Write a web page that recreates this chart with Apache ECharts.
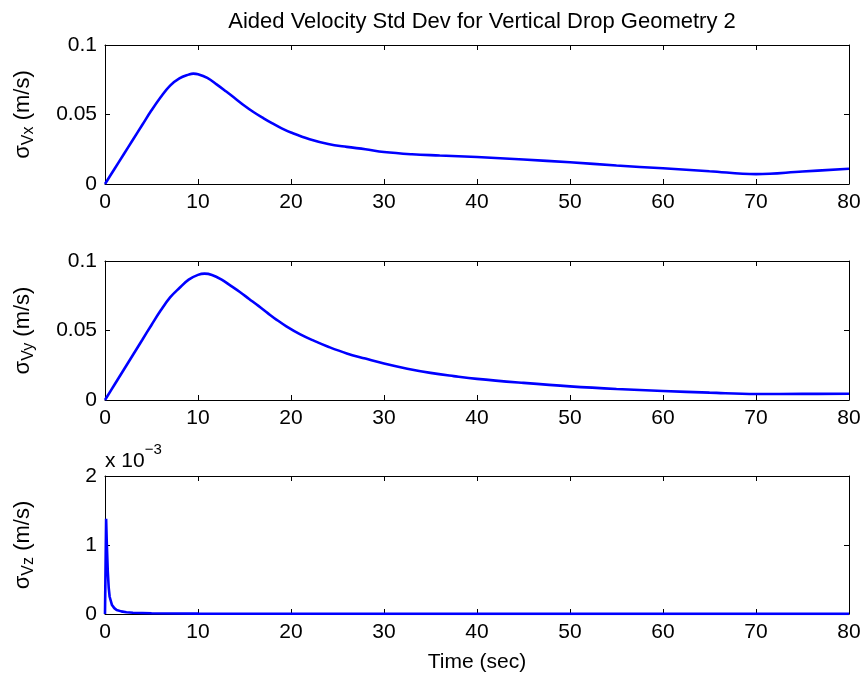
<!DOCTYPE html>
<html>
<head>
<meta charset="utf-8">
<script src="https://cdn.jsdelivr.net/npm/echarts@6/dist/echarts.min.js"></script>
<style>
html,body{margin:0;padding:0;background:#fff;}
#chart{width:864px;height:676px;}
</style>
</head>
<body>
<div id="chart"></div>
<script>
// ---- data ----
var xTicks = [0, 10, 20, 30, 40, 50, 60, 70, 80];

var vxTime = [0, 1, 2, 3, 4, 5, 6, 7, 8, 9, 9.5, 10, 11, 12, 13, 14, 15, 16, 17, 18, 19, 20, 22, 24, 26, 28, 30, 33, 36, 40, 45, 50, 55, 60, 65, 70, 75, 80];
var vxValue = [0, 0.0106, 0.0212, 0.0318, 0.0424, 0.0530, 0.0626, 0.0708, 0.0760, 0.0787, 0.0794, 0.0790, 0.0763, 0.0717, 0.0667, 0.0615, 0.0563, 0.0516, 0.0475, 0.0436, 0.0400, 0.0370, 0.0322, 0.0288, 0.0267, 0.0250, 0.0230, 0.0214, 0.0205, 0.0194, 0.0176, 0.0156, 0.0133, 0.0113, 0.0092, 0.0071, 0.0090, 0.0110];

var vyTime = [0, 1, 2, 3, 4, 5, 6, 7, 8, 9, 10, 10.7, 11.5, 12.5, 13.5, 14.5, 15.5, 16.5, 17.5, 18.5, 19.5, 21, 22.5, 24, 26, 28, 30, 32.5, 35, 37.5, 40, 45, 50, 55, 60, 65, 70, 75, 80];
var vyValue = [0, 0.0108, 0.0216, 0.0324, 0.0432, 0.0540, 0.0645, 0.0738, 0.0806, 0.0866, 0.0900, 0.0909, 0.0900, 0.0868, 0.0823, 0.0777, 0.0727, 0.0677, 0.0625, 0.0575, 0.0530, 0.0472, 0.0425, 0.0383, 0.0335, 0.0298, 0.0262, 0.0225, 0.0195, 0.0172, 0.0152, 0.0123, 0.0098, 0.0079, 0.0065, 0.0053, 0.0043, 0.0044, 0.0045];

// sigma Vz in units of 1e-3 m/s
var vzTime = [0, 0.12, 0.2, 0.3, 0.4, 0.5, 0.75, 1, 1.25, 1.75, 2.3, 3, 5, 10, 20, 40, 60, 80];
var vzValue = [0, 1.38, 1.0, 0.62, 0.38, 0.25, 0.13, 0.085, 0.058, 0.038, 0.025, 0.018, 0.010, 0.005, 0.003, 0.002, 0.002, 0.002];

var titleText = 'Aided Velocity Std Dev for Vertical Drop Geometry 2';
var xName = 'Time (sec)';

function pairs(t, v) { return t.map(function (x, i) { return [x, v[i]]; }); }

var FONT = 'Liberation Sans, Arial, Helvetica, sans-serif';
var FS = 21;

var grids = [
  {left: 105, right: 15, top: 45, height: 139},
  {left: 105, right: 15, top: 261, height: 139},
  {left: 105, right: 15, top: 476, height: 138}
];
var yCfg = [
  {min: 0, max: 0.1, interval: 0.05, fmt: function (v) { return v === 0 ? '0' : String(+v.toFixed(2)); }, name: '{a|σ}{s|Vx}{a| (m/s)}'},
  {min: 0, max: 0.1, interval: 0.05, fmt: function (v) { return v === 0 ? '0' : String(+v.toFixed(2)); }, name: '{a|σ}{s|Vy}{a| (m/s)}'},
  {min: 0, max: 2, interval: 1, fmt: function (v) { return String(v); }, name: '{a|σ}{s|Vz}{a| (m/s)}'}
];

var xAxes = [], yAxes = [];
grids.forEach(function (g, i) {
  xAxes.push({
    type: 'value', gridIndex: i, position: 'bottom', min: xTicks[0], max: xTicks[xTicks.length - 1], interval: xTicks[1] - xTicks[0],
    axisLine: {show: true, onZero: false, lineStyle: {color: '#000', width: 1}},
    axisTick: {show: true, inside: true, length: 5, lineStyle: {color: '#000'}},
    axisLabel: {color: '#000', fontSize: FS, fontFamily: FONT, margin: 8},
    splitLine: {show: false},
    name: i === 2 ? xName : '', nameLocation: 'middle', nameGap: 38,
    nameTextStyle: {color: '#000', fontSize: FS, fontFamily: FONT}
  });
  xAxes.push({
    type: 'value', gridIndex: i, position: 'top', min: xTicks[0], max: xTicks[xTicks.length - 1], interval: xTicks[1] - xTicks[0],
    axisLine: {show: true, onZero: false, lineStyle: {color: '#000', width: 1}},
    axisTick: {show: true, inside: true, length: 5, lineStyle: {color: '#000'}},
    axisLabel: {show: false}, splitLine: {show: false}
  });
  var c = yCfg[i];
  yAxes.push({
    type: 'value', gridIndex: i, position: 'left', min: c.min, max: c.max, interval: c.interval,
    axisLine: {show: true, onZero: false, lineStyle: {color: '#000', width: 1}},
    axisTick: {show: true, inside: true, length: 5, lineStyle: {color: '#000'}},
    axisLabel: {color: '#000', fontSize: FS, fontFamily: FONT, margin: 8, formatter: c.fmt},
    splitLine: {show: false},
    name: c.name, nameLocation: 'middle', nameRotate: 90, nameGap: 68,
    nameTextStyle: {
      color: '#000', fontFamily: FONT,
      rich: {
        a: {fontSize: 22, fontFamily: FONT, color: '#000', lineHeight: 28, verticalAlign: 'middle'},
        s: {fontSize: 16, fontFamily: FONT, color: '#000', lineHeight: 15, verticalAlign: 'bottom'}
      }
    }
  });
  yAxes.push({
    type: 'value', gridIndex: i, position: 'right', min: c.min, max: c.max, interval: c.interval,
    axisLine: {show: true, onZero: false, lineStyle: {color: '#000', width: 1}},
    axisTick: {show: true, inside: true, length: 5, lineStyle: {color: '#000'}},
    axisLabel: {show: false}, splitLine: {show: false}
  });
});

function lineSeries(i, t, v, smooth) {
  return {
    type: 'line', xAxisIndex: i * 2, yAxisIndex: i * 2, data: pairs(t, v),
    showSymbol: false, symbol: 'none', smooth: smooth,
    lineStyle: {color: '#0000ff', width: 2.6}, itemStyle: {color: '#0000ff'},
    clip: true, animation: false
  };
}

var chart = echarts.init(document.getElementById('chart'), null, {renderer: 'canvas'});
chart.setOption({
  animation: false,
  backgroundColor: '#fff',
  title: {
    text: titleText, left: 477, top: 6, textAlign: 'center',
    textStyle: {color: '#000', fontSize: 22, fontWeight: 'normal', fontFamily: FONT}
  },
  grid: grids,
  xAxis: xAxes,
  yAxis: yAxes,
  series: [
    lineSeries(0, vxTime, vxValue, 0.4),
    lineSeries(1, vyTime, vyValue, 0.4),
    lineSeries(2, vzTime, vzValue, false)
  ],
  graphic: [{
    type: 'text', left: 105, top: 442,
    style: {
      text: '{a|x 10}{p|−3}',
      rich: {
        a: {fontSize: FS, fontFamily: FONT, fill: '#000', lineHeight: 30, verticalAlign: 'bottom'},
        p: {fontSize: 15, fontFamily: FONT, fill: '#000', lineHeight: 15, verticalAlign: 'top'}
      }
    }
  }]
});
</script>
</body>
</html>
